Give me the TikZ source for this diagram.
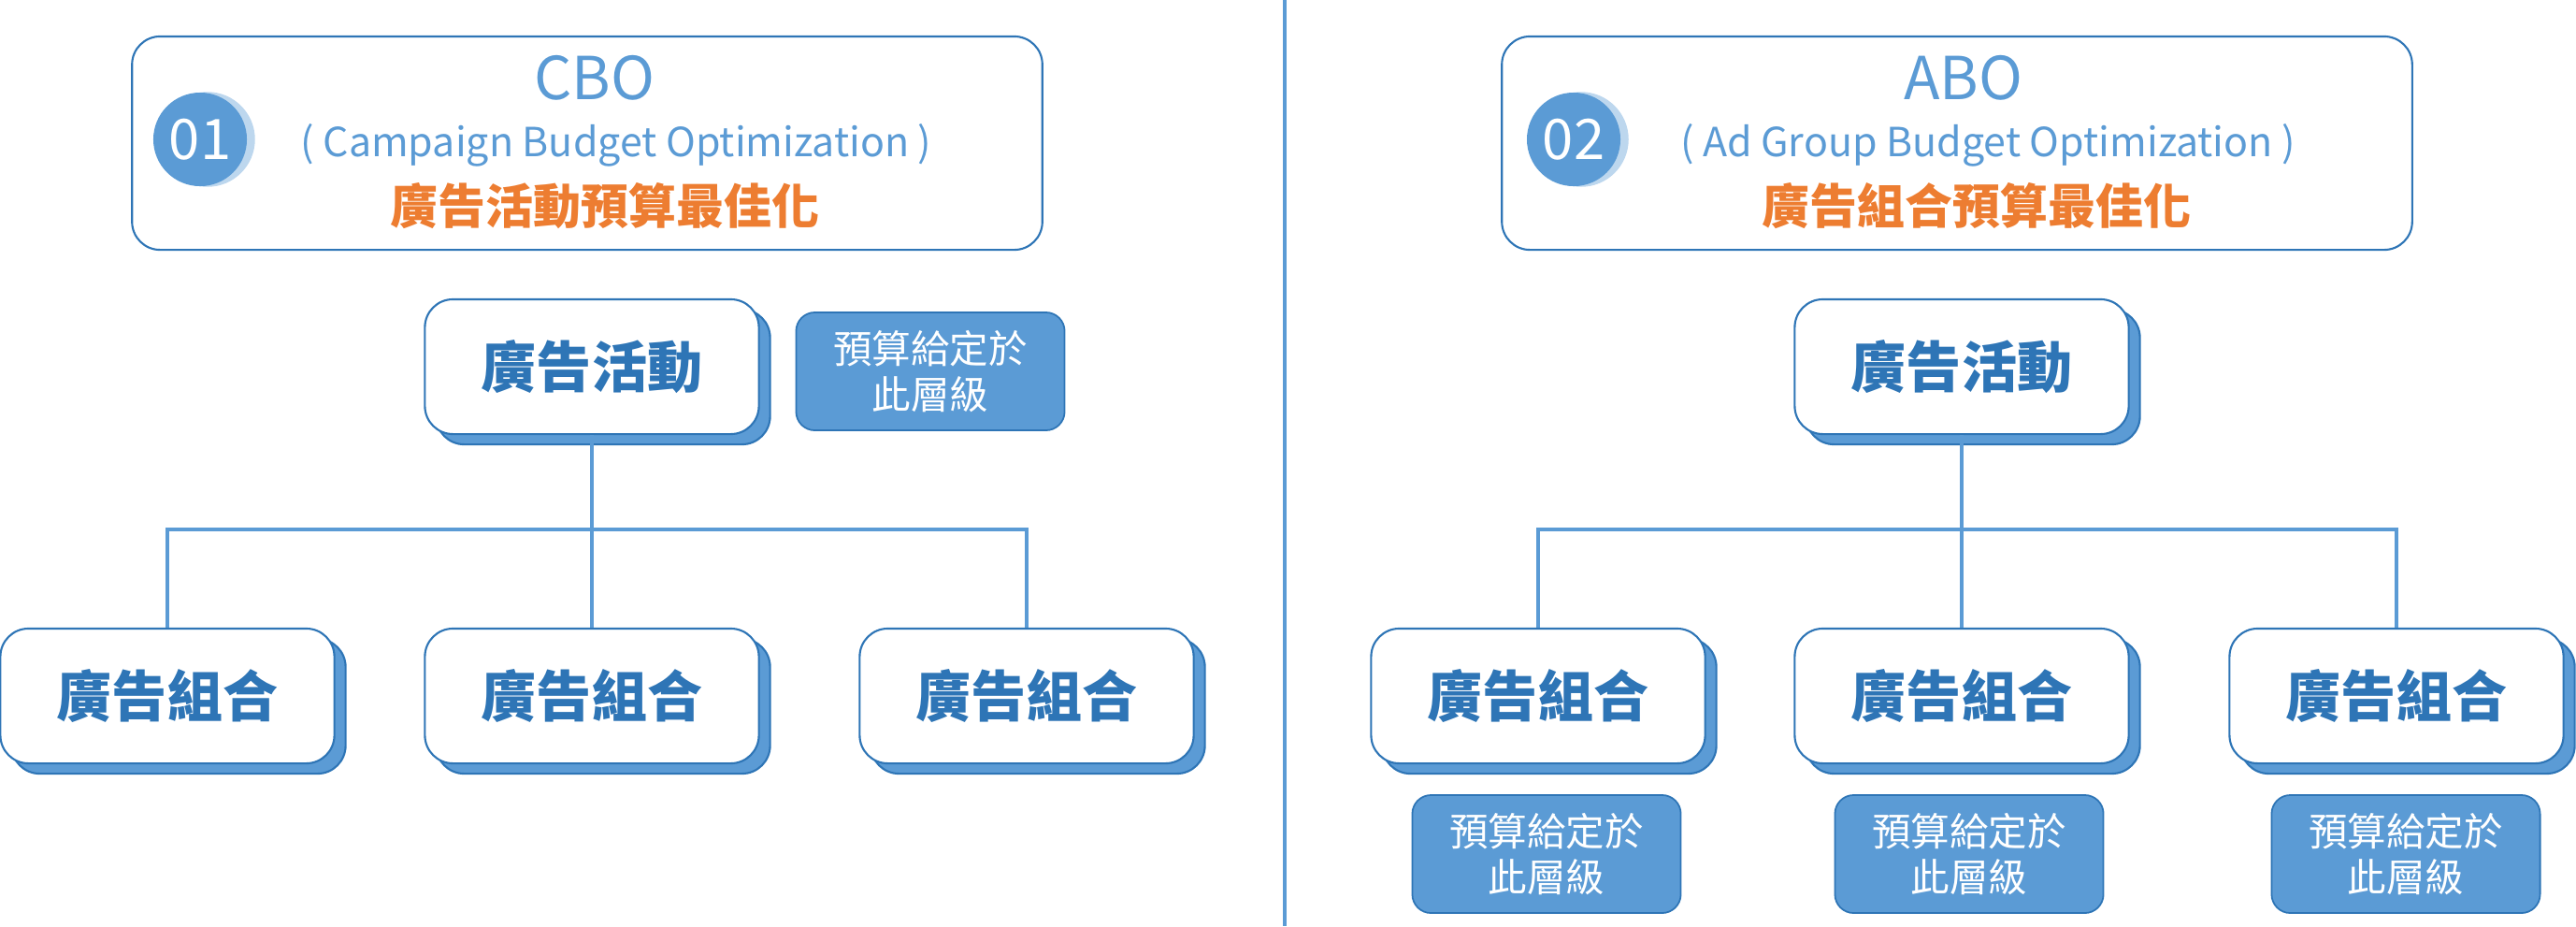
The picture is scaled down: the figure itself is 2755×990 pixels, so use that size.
\documentclass[tikz,border=0pt]{standalone}
\usepackage{fontspec}
\setmainfont{Noto Sans CJK TC}
\usetikzlibrary{shadows}
\definecolor{midblue}{HTML}{5B9BD5}
\definecolor{darkblue}{HTML}{2E75B6}
\definecolor{paleblue}{HTML}{BDD7EE}
\definecolor{titleorange}{HTML}{ED7D31}

\begin{document}
\begin{tikzpicture}[%
  x = 0.01cm, y = -0.01cm,
  header/.style = {draw = darkblue, line width = 0.6pt, rounded corners = 0.3cm,
    minimum width = 9.73cm, minimum height = 2.28cm},
  num/.style = {circle, fill = midblue, text = white, inner sep = 0pt,
    minimum size = 1cm, font = \fontsize{17}{20}\selectfont,
    copy shadow = {shadow xshift = 0.08cm, shadow yshift = 0cm, fill = paleblue, draw = paleblue}},
  level/.style = {draw = darkblue, fill = white, line width = 0.6pt, rounded corners = 0.3cm,
    minimum width = 3.57cm, minimum height = 1.44cm, text = darkblue,
    font = \bfseries\fontsize{16.8}{20}\selectfont,
    copy shadow = {shadow xshift = 0.12cm, shadow yshift = -0.11cm, fill = midblue, draw = darkblue}},
  budget/.style = {draw = darkblue, fill = midblue, line width = 0.5pt, rounded corners = 0.2cm,
    minimum width = 2.87cm, minimum height = 1.26cm, text = white, align = center,
    font = \fontsize{11.8}{14}\selectfont},
  abbr/.style = {text = midblue, font = \fontsize{18}{20}\selectfont},
  full/.style = {text = midblue, font = \fontsize{12.2}{14}\selectfont},
  zh/.style = {text = titleorange, font = \bfseries\fontsize{14.5}{18}\selectfont},
  conn/.style = {draw = midblue, line width = 1pt}]
  \useasboundingbox (0, 0) rectangle (2755, 990);

  \coordinate (divtop) at (1374, 0);
  \coordinate (divbot) at (1374, 990);
  \draw[midblue, line width = 1.1pt] (divtop) -- (divbot);

  % CBO
  \node[header] (hdrL) at (628, 153) {};
  \node[num] (numL) at (214, 149) {01};
  \node[abbr] (cbo) at (636, 83) {CBO};
  \node[full] (cbofull) at (659, 155) {( Campaign Budget Optimization )};
  \node[zh] (cbozh) at (647, 220) {廣告活動預算最佳化};

  \coordinate (busL) at (633, 566);
  \node[level] (campL) at (633, 392) {廣告活動};
  \node[budget] (budL) at (995, 397) {預算給定於\\此層級};
  \node[level] (adL1) at (179, 744) {廣告組合};
  \node[level] (adL2) at (633, 744) {廣告組合};
  \node[level] (adL3) at (1098, 744) {廣告組合};
  \draw[conn] (campL.south) -- (adL2.north);
  \draw[conn] (adL1.north) |- (busL) -| (adL3.north);

  % ABO
  \node[header] (hdrR) at (2093, 153) {};
  \node[num] (numR) at (1683, 149) {02};
  \node[abbr] (abo) at (2100, 83) {ABO};
  \node[full] (abofull) at (2126, 155) {( Ad Group Budget Optimization )};
  \node[zh] (abozh) at (2114, 220) {廣告組合預算最佳化};

  \coordinate (busR) at (2098, 566);
  \node[level] (campR) at (2098, 392) {廣告活動};
  \node[level] (adR1) at (1645, 744) {廣告組合};
  \node[level] (adR2) at (2098, 744) {廣告組合};
  \node[level] (adR3) at (2563, 744) {廣告組合};
  \draw[conn] (campR.south) -- (adR2.north);
  \draw[conn] (adR1.north) |- (busR) -| (adR3.north);
  \node[budget] (budR1) at (1654, 913) {預算給定於\\此層級};
  \node[budget] (budR2) at (2106, 913) {預算給定於\\此層級};
  \node[budget] (budR3) at (2573, 913) {預算給定於\\此層級};
\end{tikzpicture}
\end{document}
